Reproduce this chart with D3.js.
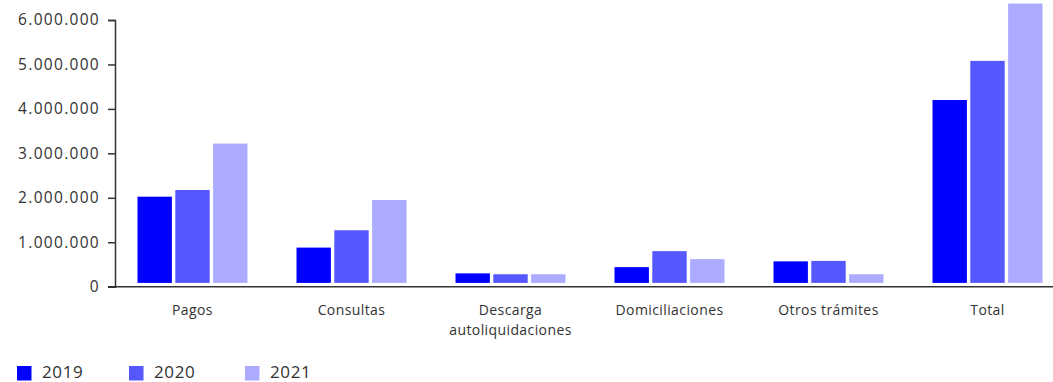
<!DOCTYPE html>
<html><head><meta charset="utf-8">
<script src="https://cdn.jsdelivr.net/npm/d3@7"></script>
<style>body{margin:0;background:#fff}svg{display:block}text{font-family:"Open Sans",sans-serif;fill:#333}</style>
</head><body><svg id="c" width="1053" height="382"></svg>
<script>
const categories = ["Pagos","Consultas","Descarga\nautoliquidaciones","Domiciliaciones","Otros trámites","Total"];
const years = ["2019","2020","2021"];
const v2019 = [2025000, 880000, 300000, 440000, 570000, 4200000];
const v2020 = [2175000, 1270000, 280000, 800000, 580000, 5080000];
const v2021 = [3220000, 1950000, 280000, 620000, 280000, 6370000];
const yTicks = [0,1000000,2000000,3000000,4000000,5000000,6000000];
const colors = ["#0000FF","#5757FF","#ABABFF"];

const series = [v2019, v2020, v2021];
const svg = d3.select("#c");
const y = d3.scaleLinear().domain([0,6000000]).range([286.7,20]);
const x0 = d3.scaleBand().domain(categories).range([113,1067]);
const x1 = d3.scaleBand().domain(years).range([-55,55]).paddingInner(0.09);
const fmt = v => d3.format(",")(v).replace(/,/g,".");

// bars
const g = svg.append("g");
categories.forEach((c,i)=>{
  years.forEach((yr,j)=>{
    const cx = x0(c)+x0.bandwidth()/2;
    g.append("rect")
      .attr("x", cx + x1(yr))
      .attr("width", x1.bandwidth())
      .attr("y", y(series[j][i]))
      .attr("height", Math.max(0, y(0)-3.8 - y(series[j][i])))
      .attr("fill", colors[j]);
  });
});

// y axis
const ya = svg.append("g").attr("transform","translate(115,0)")
  .call(d3.axisLeft(y).tickValues(yTicks).tickFormat(fmt).tickSize(7).tickPadding(8));
ya.select(".domain").attr("stroke","#333").attr("stroke-width",1.5);
ya.selectAll(".tick line").attr("stroke","#333").attr("stroke-width",1.5);
ya.selectAll(".tick text").attr("font-size",15.5).attr("font-family","Open Sans")
  .attr("letter-spacing",1.3).attr("fill","#333");

// x axis line
svg.append("line").attr("x1",108).attr("x2",1053).attr("y1",y(0)).attr("y2",y(0))
  .attr("stroke","#333").attr("stroke-width",1.5);

// x labels
categories.forEach(c=>{
  const t = svg.append("text").attr("text-anchor","middle").attr("font-size",14)
    .attr("letter-spacing",0.4)
    .attr("x", x0(c)+x0.bandwidth()/2).attr("y",315);
  c.split("\n").forEach((l,k)=>t.append("tspan").attr("x",x0(c)+x0.bandwidth()/2).attr("dy",k?20:0).text(l));
});

// legend
const legX = [17,129,245];
years.forEach((yr,j)=>{
  svg.append("rect").attr("x",legX[j]).attr("y",366).attr("width",14.5).attr("height",14.5).attr("fill",colors[j]);
  svg.append("text").attr("x",legX[j]+25).attr("y",377.5).attr("font-size",17)
    .attr("letter-spacing",0.6).text(yr);
});
</script></body></html>
